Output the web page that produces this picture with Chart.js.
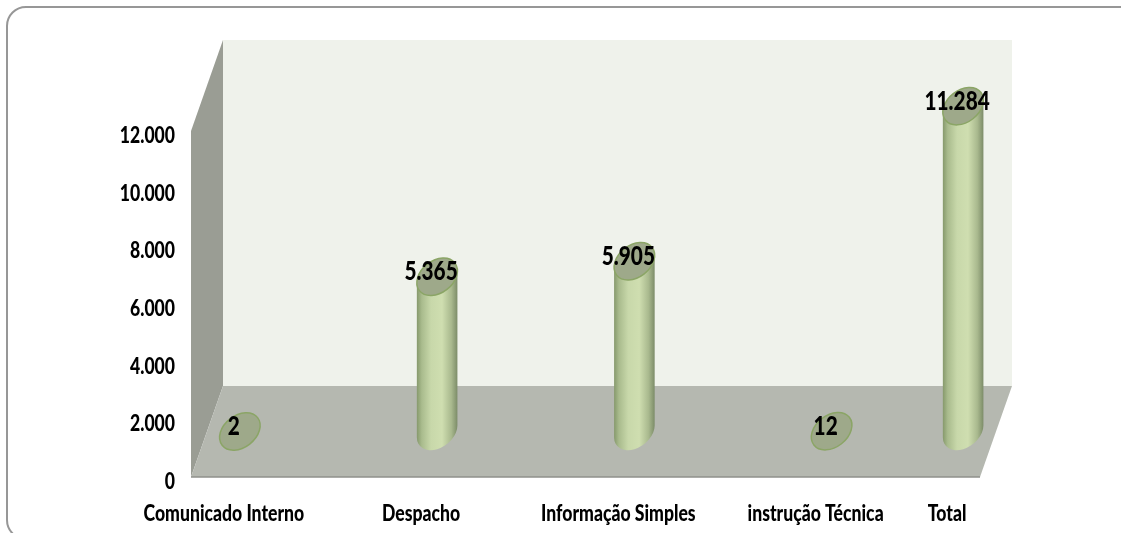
<!DOCTYPE html>
<html>
<head>
<meta charset="utf-8">
<style>
  html, body { margin: 0; padding: 0; background: #fff; overflow: hidden; }
  #wrap { position: relative; width: 1121px; height: 533px; overflow: hidden; }
  #frame { position: absolute; left: 6px; top: 6px; width: 1134px; height: 534px; box-sizing: border-box;
           border: 2px solid #979797; border-radius: 20px; }
  canvas { position: absolute; left: 0; top: 0; }
</style>
<script src="https://cdn.jsdelivr.net/npm/chart.js@4"></script>
</head>
<body>
<div id="wrap">
  <div id="frame"></div>
  <canvas id="chart" width="1121" height="533"></canvas>
</div>
<script>
// blank slots keep the uneven spacing of the original columns
const categories = ['Comunicado Interno', '', '', 'Despacho', '', '', 'Informação Simples', '', '', 'instrução Técnica', '', 'Total'];
const values = [2, null, null, 5365, null, null, 5905, null, null, 12, null, 11284];
const yTicks = [0, 2000, 4000, 6000, 8000, 10000, 12000];

const FONT = 'Lato, "Open Sans", sans-serif';
const SQUEEZE = 0.8; // the original text is a narrow face, Lato is wider
const DEPTH_X = 32, DEPTH_Y = 91;
const R_A = 22.5, R_B = 16, TILT = -38 * Math.PI / 180;

const milhar = v => String(v).replace(/\B(?=(\d{3})+$)/g, '.');

const canvas = document.getElementById('chart');
const context = canvas.getContext('2d');
const rawFillText = context.fillText.bind(context);
context.fillText = function (text, x, y) {
  context.save();
  context.translate(x, y);
  context.scale(SQUEEZE, 1);
  rawFillText(text, 0, 0);
  context.restore();
};

const cylinders = {
  id: 'cylinders',
  beforeDatasetsDraw(chart) {
    const { ctx, chartArea: a } = chart;
    const yTop = a.top, yBot = a.bottom;
    ctx.save();
    // back wall
    ctx.fillStyle = '#eff2eb';
    ctx.fillRect(a.left + DEPTH_X, yTop - DEPTH_Y, a.right - a.left, yBot - yTop);
    // left wall
    ctx.fillStyle = '#9a9d94';
    ctx.beginPath();
    ctx.moveTo(a.left, yTop);
    ctx.lineTo(a.left + DEPTH_X, yTop - DEPTH_Y);
    ctx.lineTo(a.left + DEPTH_X, yBot - DEPTH_Y);
    ctx.lineTo(a.left, yBot);
    ctx.closePath();
    ctx.fill();
    // floor
    ctx.fillStyle = '#b5b8b0';
    ctx.beginPath();
    ctx.moveTo(a.left, yBot);
    ctx.lineTo(a.left + DEPTH_X, yBot - DEPTH_Y);
    ctx.lineTo(a.right + DEPTH_X, yBot - DEPTH_Y);
    ctx.lineTo(a.right, yBot);
    ctx.closePath();
    ctx.fill();
    ctx.strokeStyle = '#8f918b';
    ctx.lineWidth = 1.5;
    ctx.beginPath();
    ctx.moveTo(a.left, yBot);
    ctx.lineTo(a.right, yBot);
    ctx.stroke();
    ctx.restore();
  },
  afterDatasetsDraw(chart) {
    const { ctx } = chart;
    const t0 = Math.atan2(-R_B * Math.sin(TILT), R_A * Math.cos(TILT));
    chart.getDatasetMeta(0).data.forEach((bar, i) => {
      const v = values[i];
      if (v === null) return;
      const cx = bar.x + DEPTH_X / 2;
      const top = bar.y - DEPTH_Y / 2;
      const base = bar.base - DEPTH_Y / 2;
      const halfW = Math.hypot(R_A * Math.cos(TILT), R_B * Math.sin(TILT));
      ctx.save();
      if (base - top > 6) {
        const g = ctx.createLinearGradient(cx - halfW, 0, cx + halfW, 0);
        g.addColorStop(0, '#86996c');
        g.addColorStop(0.12, '#a9bb8d');
        g.addColorStop(0.35, '#c8d8aa');
        g.addColorStop(0.62, '#cfdeb0');
        g.addColorStop(0.85, '#a9b98e');
        g.addColorStop(1, '#7c8c68');
        ctx.fillStyle = g;
        ctx.beginPath();
        ctx.ellipse(cx, base, R_A, R_B, TILT, t0, t0 + Math.PI);
        ctx.ellipse(cx, top, R_A, R_B, TILT, t0 + Math.PI, t0 + 2 * Math.PI);
        ctx.closePath();
        ctx.fill();
      }
      // open top ellipse
      ctx.beginPath();
      ctx.ellipse(cx, top, R_A, R_B, TILT, 0, 2 * Math.PI);
      ctx.fillStyle = '#9ea98a';
      ctx.fill();
      ctx.strokeStyle = '#8ba566';
      ctx.lineWidth = 1.5;
      ctx.stroke();
      // value label
      ctx.fillStyle = '#000';
      ctx.font = '900 26px ' + FONT;
      ctx.textAlign = 'center';
      ctx.textBaseline = 'middle';
      ctx.fillText(milhar(v), cx - 6, top - 5);
      ctx.restore();
    });
  }
};

new Chart(canvas, {
  type: 'bar',
  data: {
    labels: categories,
    datasets: [{ data: values, backgroundColor: 'rgba(0,0,0,0)', borderWidth: 0 }]
  },
  options: {
    responsive: false,
    animation: false,
    layout: { padding: { left: 0, top: 131, right: 141, bottom: 0 } },
    plugins: { legend: { display: false }, tooltip: { enabled: false } },
    scales: {
      x: {
        border: { display: false },
        grid: { display: false },
        afterFit: s => { s.height = 56; },
        ticks: {
          autoSkip: false, maxRotation: 0, minRotation: 0, padding: 16,
          color: '#000', font: { family: FONT, weight: 900, size: 22 }
        }
      },
      y: {
        min: 0, max: 12000,
        border: { display: false },
        grid: { display: false },
        afterFit: s => { s.width = 191; },
        afterBuildTicks: s => { s.ticks = yTicks.map(v => ({ value: v })); },
        ticks: {
          padding: 8, labelOffset: 5,
          color: '#000', font: { family: FONT, weight: 900, size: 22 },
          callback: v => milhar(v)
        }
      }
    }
  },
  plugins: [cylinders]
});
</script>
</body>
</html>
